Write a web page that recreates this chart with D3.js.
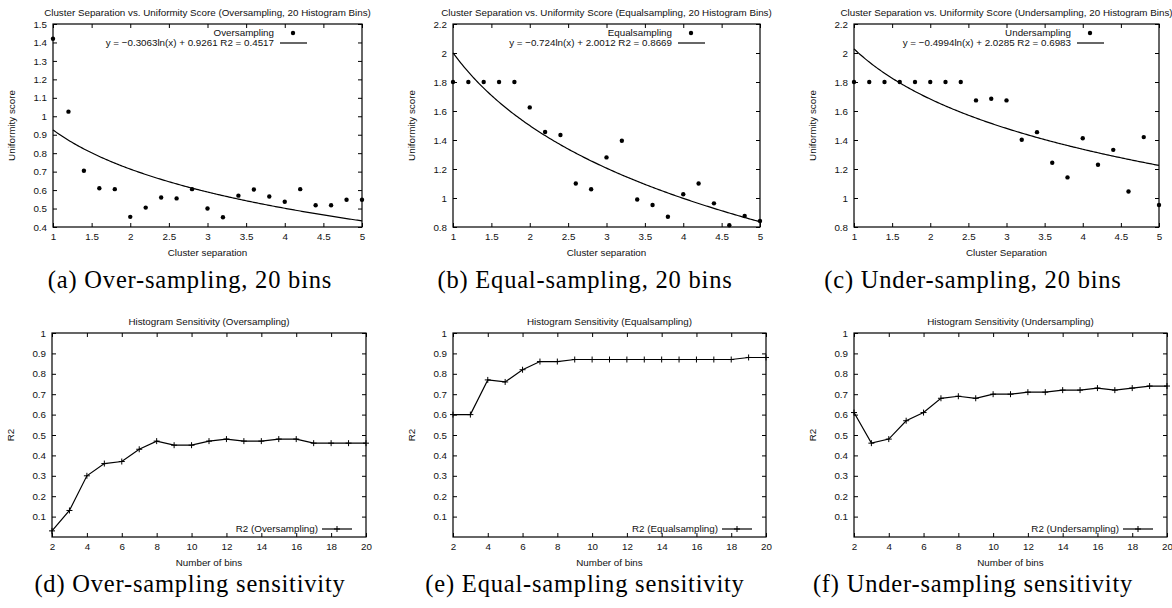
<!DOCTYPE html>
<html lang="en">
<head>
<meta charset="UTF-8">
<title>Cluster separation vs. uniformity score</title>
<style>
  body, html { margin: 0; padding: 0; background: #fff; }
  svg { display: block; }
  .gp text { font-family: 'Liberation Sans', Arial, sans-serif; font-size: 9.8px; fill: #111; }
  .caption { font-family: 'Liberation Serif', 'Times New Roman', serif; font-size: 24.5px; fill: #000; letter-spacing: 0.8px; }
</style>
</head>
<body>
<div id="chart"></div>
<script src="https://d3js.org/d3.v7.min.js"></script>
<script>
// ---- data ----
const sepX = [1, 1.2, 1.4, 1.6, 1.8, 2, 2.2, 2.4, 2.6, 2.8, 3, 3.2, 3.4, 3.6, 3.8, 4, 4.2, 4.4, 4.6, 4.8, 5];
const overScore  = [1.42, 1.025, 0.705, 0.61, 0.605, 0.455, 0.505, 0.56, 0.555, 0.605, 0.50, 0.453, 0.57, 0.603, 0.565, 0.537, 0.605, 0.518, 0.518, 0.548, 0.548];
const equalScore = [1.8, 1.8, 1.8, 1.8, 1.8, 1.625, 1.455, 1.435, 1.10, 1.06, 1.28, 1.395, 0.99, 0.952, 0.871, 1.026, 1.10, 0.963, 0.812, 0.876, 0.841];
const underScore = [1.8, 1.8, 1.8, 1.8, 1.8, 1.8, 1.8, 1.8, 1.673, 1.684, 1.673, 1.402, 1.454, 1.243, 1.142, 1.412, 1.229, 1.332, 1.045, 1.42, 0.952];

// log fits y = a ln(x) + b
const fitA  = [-0.3063, -0.724, -0.4994];
const fitB  = [0.9261, 2.0012, 2.0285];
const fitR2 = ["0.4517", "0.8669", "0.6983"];

const binsX    = [2, 3, 4, 5, 6, 7, 8, 9, 10, 11, 12, 13, 14, 15, 16, 17, 18, 19, 20];
const overR2   = [0.03, 0.13, 0.30, 0.36, 0.37, 0.43, 0.47, 0.45, 0.45, 0.47, 0.48, 0.47, 0.47, 0.48, 0.48, 0.46, 0.46, 0.46, 0.46];
const equalR2  = [0.60, 0.60, 0.77, 0.76, 0.82, 0.86, 0.86, 0.87, 0.87, 0.87, 0.87, 0.87, 0.87, 0.87, 0.87, 0.87, 0.87, 0.88, 0.88];
const underR2  = [0.61, 0.46, 0.48, 0.57, 0.61, 0.68, 0.69, 0.68, 0.70, 0.70, 0.71, 0.71, 0.72, 0.72, 0.73, 0.72, 0.73, 0.74, 0.74];

const methods   = ["Oversampling", "Equalsampling", "Undersampling"];
const sepTicks  = [1, 1.5, 2, 2.5, 3, 3.5, 4, 4.5, 5];
const scoreTicksOver = [0.4, 0.5, 0.6, 0.7, 0.8, 0.9, 1, 1.1, 1.2, 1.3, 1.4, 1.5];
const scoreTicks     = [0.8, 1, 1.2, 1.4, 1.6, 1.8, 2, 2.2];
const binTicks  = [2, 4, 6, 8, 10, 12, 14, 16, 18, 20];
const r2Ticks   = [0.1, 0.2, 0.3, 0.4, 0.5, 0.6, 0.7, 0.8, 0.9, 1];

const topCaptions = ["(a) Over-sampling, 20 bins", "(b) Equal-sampling, 20 bins", "(c) Under-sampling, 20 bins"];
const botCaptions = ["(d) Over-sampling sensitivity", "(e) Equal-sampling sensitivity", "(f) Under-sampling sensitivity"];
const sepLabels   = ["Cluster separation", "Cluster separation", "Cluster Separation"];

// ---- layout ----
const W = 1172, H = 608;
const topBoxes = [{l: 53, r: 362, t: 24, b: 227}, {l: 453, r: 760, t: 24, b: 227}, {l: 854, r: 1159, t: 24, b: 227}];
const botBoxes = [{l: 52, r: 366, t: 333, b: 537}, {l: 453, r: 766, t: 333, b: 537}, {l: 854, r: 1167, t: 333, b: 537}];
const capX = [190, 585, 973];

const svg = d3.select("#chart").append("svg")
  .attr("width", W).attr("height", H);
svg.append("rect").attr("width", W).attr("height", H).attr("fill", "#fff");

const fmt = d3.format("~g");
const TICK = 4;

function frame(g, box, x, y, xt, yt, title, xlab, ylab) {
  const w = box.r - box.l, h = box.b - box.t;
  g.append("g").attr("transform", `translate(0,${h})`)
    .call(d3.axisBottom(x).tickValues(xt).tickSize(-TICK).tickPadding(6).tickFormat(fmt));
  g.append("g")
    .call(d3.axisTop(x).tickValues(xt).tickSize(-TICK).tickFormat(""));
  g.append("g")
    .call(d3.axisLeft(y).tickValues(yt).tickSize(-TICK).tickPadding(6).tickFormat(fmt));
  g.append("g").attr("transform", `translate(${w},0)`)
    .call(d3.axisRight(y).tickValues(yt).tickSize(-TICK).tickFormat(""));
  g.selectAll(".domain").remove();
  g.selectAll(".tick line").attr("stroke", "#000").attr("stroke-width", 1);
  g.selectAll(".tick text").attr("font-family", null).attr("font-size", null).attr("fill", "#111");
  g.append("rect").attr("width", w).attr("height", h)
    .attr("fill", "none").attr("stroke", "#000").attr("stroke-width", 1.2);
  g.append("text").attr("x", w / 2).attr("y", -8).attr("text-anchor", "middle").text(title);
  g.append("text").attr("x", w / 2).attr("y", h + 29).attr("text-anchor", "middle").text(xlab);
  g.append("text").attr("transform", `translate(-38,${h / 2}) rotate(-90)`)
    .attr("text-anchor", "middle").text(ylab);
}

// ---- top row: scatter + log fit ----
const topScores = [overScore, equalScore, underScore];
const topYTicks = [scoreTicksOver, scoreTicks, scoreTicks];

topBoxes.forEach((box, i) => {
  const w = box.r - box.l, h = box.b - box.t;
  const g = svg.append("g").attr("class", "gp").attr("transform", `translate(${box.l},${box.t})`);
  const yt = topYTicks[i];
  const x = d3.scaleLinear().domain([1, 5]).range([0, w]);
  const y = d3.scaleLinear().domain([yt[0], yt[yt.length - 1]]).range([h, 0]);

  frame(g, box, x, y, sepTicks, yt,
    `Cluster Separation vs. Uniformity Score (${methods[i]}, 20 Histogram Bins)`,
    sepLabels[i], "Uniformity score");

  // fit curve
  const fx = d3.range(0, 201).map(k => 1 + k * 4 / 200);
  g.append("path")
    .datum(fx)
    .attr("fill", "none").attr("stroke", "#000").attr("stroke-width", 1.2)
    .attr("d", d3.line().x(d => x(d)).y(d => y(fitA[i] * Math.log(d) + fitB[i])));

  g.selectAll("circle.pt").data(sepX).join("circle")
    .attr("class", "pt")
    .attr("cx", d => x(d)).attr("cy", (d, k) => y(topScores[i][k]))
    .attr("r", 2.2).attr("fill", "#000");

  // legend
  const lx = w - 88;
  g.append("text").attr("x", lx).attr("y", 12).attr("text-anchor", "end").text(methods[i]);
  g.append("circle").attr("cx", w - 69).attr("cy", 9).attr("r", 2.2).attr("fill", "#000");
  const a = fitA[i].toString().replace("-", "\u2212");
  g.append("text").attr("x", lx).attr("y", 22).attr("text-anchor", "end")
    .text(`y = ${a}ln(x) + ${fitB[i]} R2 = ${fitR2[i]}`);
  g.append("line").attr("x1", w - 82).attr("x2", w - 55).attr("y1", 19).attr("y2", 19)
    .attr("stroke", "#000").attr("stroke-width", 1.2);

  svg.append("text").attr("class", "caption")
    .attr("x", capX[i]).attr("y", 288).attr("text-anchor", "middle").text(topCaptions[i]);
});

// ---- bottom row: R2 vs number of bins ----
const botR2 = [overR2, equalR2, underR2];

function plus(sel, s) {
  sel.append("path").attr("d", `M${-s},0H${s}M0,${-s}V${s}`)
    .attr("stroke", "#000").attr("stroke-width", 1);
}

botBoxes.forEach((box, i) => {
  const w = box.r - box.l, h = box.b - box.t;
  const g = svg.append("g").attr("class", "gp").attr("transform", `translate(${box.l},${box.t})`);
  const x = d3.scaleLinear().domain([2, 20]).range([0, w]);
  const y = d3.scaleLinear().domain([0, 1]).range([h, 0]);

  frame(g, box, x, y, binTicks, r2Ticks,
    `Histogram Sensitivity (${methods[i]})`, "Number of bins", "R2");

  g.append("path").datum(binsX)
    .attr("fill", "none").attr("stroke", "#000").attr("stroke-width", 1.2)
    .attr("d", d3.line().x(d => x(d)).y((d, k) => y(botR2[i][k])));

  g.selectAll("g.mk").data(binsX).join("g")
    .attr("class", "mk")
    .attr("transform", (d, k) => `translate(${x(d)},${y(botR2[i][k])})`)
    .call(plus, 3);

  // legend
  g.append("text").attr("x", w - 48).attr("y", h - 5).attr("text-anchor", "end")
    .text(`R2 (${methods[i]})`);
  g.append("line").attr("x1", w - 44).attr("x2", w - 14).attr("y1", h - 8).attr("y2", h - 8)
    .attr("stroke", "#000").attr("stroke-width", 1.2);
  g.append("g").attr("transform", `translate(${w - 29},${h - 8})`).call(plus, 3);

  svg.append("text").attr("class", "caption")
    .attr("x", capX[i]).attr("y", 592).attr("text-anchor", "middle").text(botCaptions[i]);
});
</script>
</body>
</html>
